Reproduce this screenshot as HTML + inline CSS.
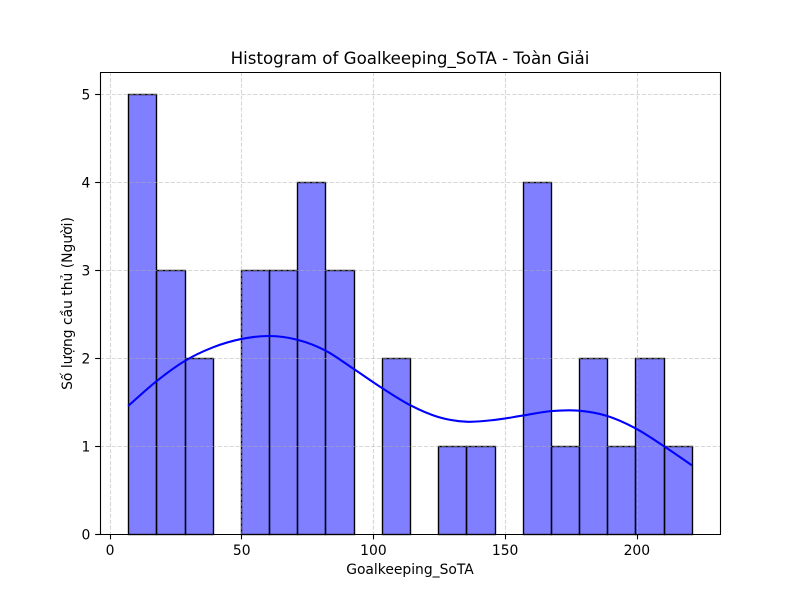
<!DOCTYPE html>
<html lang="vi">
<head>
<meta charset="utf-8">
<title>Histogram of Goalkeeping_SoTA - Toàn Giải</title>
<style>
html,body{margin:0;padding:0;background:#fff;width:800px;height:600px;overflow:hidden}
svg{display:block}
text{font-family:"DejaVu Sans","Liberation Sans",sans-serif;fill:#000}
</style>
</head>
<body>
<svg id="chart" width="800" height="600" viewBox="0 0 800 600" xmlns="http://www.w3.org/2000/svg">
  <rect x="0" y="0" width="800" height="600" fill="#fff"></rect>
  <rect x="100" y="72" width="620" height="462" fill="#fff"></rect>
  <g id="bars"></g>
  <g id="grid"></g>
  <path id="kde" fill="none" stroke="#0000ff" stroke-width="2.08" stroke-linejoin="round" stroke-linecap="butt"></path>
  <g id="ticks"></g>
  <g id="spines" fill="none" stroke="#000" stroke-width="1.11">
    <path d="M100.5 534.5V72.5"></path>
    <path d="M720.5 534.5V72.5"></path>
    <path d="M100 534.5H721"></path>
    <path d="M100 72.5H721"></path>
  </g>
  <text x="410" y="64" text-anchor="middle" font-size="16.67">Histogram of Goalkeeping_SoTA - Toàn Giải</text>
  <text x="410" y="574" text-anchor="middle" font-size="13.89">Goalkeeping_SoTA</text>
  <text transform="translate(72 303.5) rotate(-90)" text-anchor="middle" font-size="13.89">Số lượng cầu thủ (Người)</text>
</svg>
<script>
const binStart = 7;
const binWidth = 10.7;
const counts = [5, 3, 2, 0, 3, 3, 4, 3, 0, 2, 0, 1, 1, 0, 4, 1, 2, 1, 2, 1];
const xTicks = [0, 50, 100, 150, 200];
const yTicks = [0, 1, 2, 3, 4, 5];
const kdeX = [7, 17.7, 28.4, 39.1, 49.8, 60.5, 71.2, 81.9, 92.6, 103.3, 114, 124.7, 135.4, 146.1, 156.8, 167.5, 178.2, 188.9, 199.6, 210.3, 221];
const kdeY = [1.455, 1.735, 1.965, 2.12, 2.215, 2.25, 2.208, 2.085, 1.876, 1.66, 1.465, 1.33, 1.276, 1.296, 1.346, 1.396, 1.401, 1.341, 1.201, 1.0, 0.781];

const NS = 'http://www.w3.org/2000/svg';
const plotLeft = 100, plotRight = 720, plotTop = 72, plotBottom = 534;
const xDomainMin = -3.7, xDomainMax = 231.7, yDomainMax = 5.25;

function xScale(v) {
  return plotLeft + (v - xDomainMin) / (xDomainMax - xDomainMin) * (plotRight - plotLeft);
}
function yScale(v) {
  return plotBottom - v / yDomainMax * (plotBottom - plotTop);
}
function snap(p) {
  return Math.floor(p + 0.5) + 0.5;
}
function make(tag, attrs, parent) {
  const el = document.createElementNS(NS, tag);
  for (const k in attrs) el.setAttribute(k, attrs[k]);
  parent.appendChild(el);
  return el;
}

const barsG = document.getElementById('bars');
counts.forEach(function (c, i) {
  const x0 = snap(xScale(binStart + i * binWidth));
  const x1 = snap(xScale(binStart + (i + 1) * binWidth));
  const y1 = snap(yScale(c));
  const y0 = snap(yScale(0));
  const bar = make('rect', {
    x: x0, y: y1, width: x1 - x0, height: Math.max(0, y0 - y1),
    fill: '#0000ff', 'fill-opacity': 0.5, stroke: '#000', 'stroke-width': 1.39
  }, barsG);
  
  
});

const gridG = document.getElementById('grid');
const ticksG = document.getElementById('ticks');
xTicks.forEach(function (t) {
  const px = snap(xScale(t));
  const g = make('line', {
    x1: px, x2: px, y1: plotTop, y2: plotBottom,
    stroke: '#b0b0b0', 'stroke-opacity': 0.5, 'stroke-width': 1.11, 'stroke-dasharray': '4.11 1.78'
  }, gridG);
  
  
  const m = make('line', {
    x1: px, x2: px, y1: plotBottom, y2: plotBottom + 5.36, stroke: '#000', 'stroke-width': 1.11
  }, ticksG);
  
  
  const l = make('text', { x: xScale(t) + 0.3, y: 555, 'text-anchor': 'middle', 'font-size': 13.89 }, ticksG);
  l.textContent = String(t);
  
  
});
yTicks.forEach(function (t) {
  const py = snap(yScale(t));
  const g = make('line', {
    x1: plotLeft, x2: plotRight, y1: py, y2: py,
    stroke: '#b0b0b0', 'stroke-opacity': 0.5, 'stroke-width': 1.11, 'stroke-dasharray': '4.11 1.78'
  }, gridG);
  
  
  const m = make('line', {
    x1: plotLeft - 4.86, x2: plotLeft + 0.5, y1: py, y2: py, stroke: '#000', 'stroke-width': 1.11
  }, ticksG);
  
  
  const l = make('text', { x: 90.3, y: yScale(t) + 5.3, 'text-anchor': 'end', 'font-size': 13.89 }, ticksG);
  l.textContent = String(t);
  
  
});

const pts = kdeX.map(function (v, i) { return [xScale(v), yScale(kdeY[i])]; });
let d = 'M' + pts[0][0].toFixed(2) + ' ' + pts[0][1].toFixed(2);
for (let i = 0; i < pts.length - 1; i++) {
  const p0 = pts[Math.max(0, i - 1)], p1 = pts[i], p2 = pts[i + 1], p3 = pts[Math.min(pts.length - 1, i + 2)];
  const c1x = p1[0] + (p2[0] - p0[0]) / 6, c1y = p1[1] + (p2[1] - p0[1]) / 6;
  const c2x = p2[0] - (p3[0] - p1[0]) / 6, c2y = p2[1] - (p3[1] - p1[1]) / 6;
  d += 'C' + c1x.toFixed(2) + ' ' + c1y.toFixed(2) + ' ' + c2x.toFixed(2) + ' ' + c2y.toFixed(2) + ' ' + p2[0].toFixed(2) + ' ' + p2[1].toFixed(2);
}
document.getElementById('kde').setAttribute('d', d);
</script>
</body>
</html>
